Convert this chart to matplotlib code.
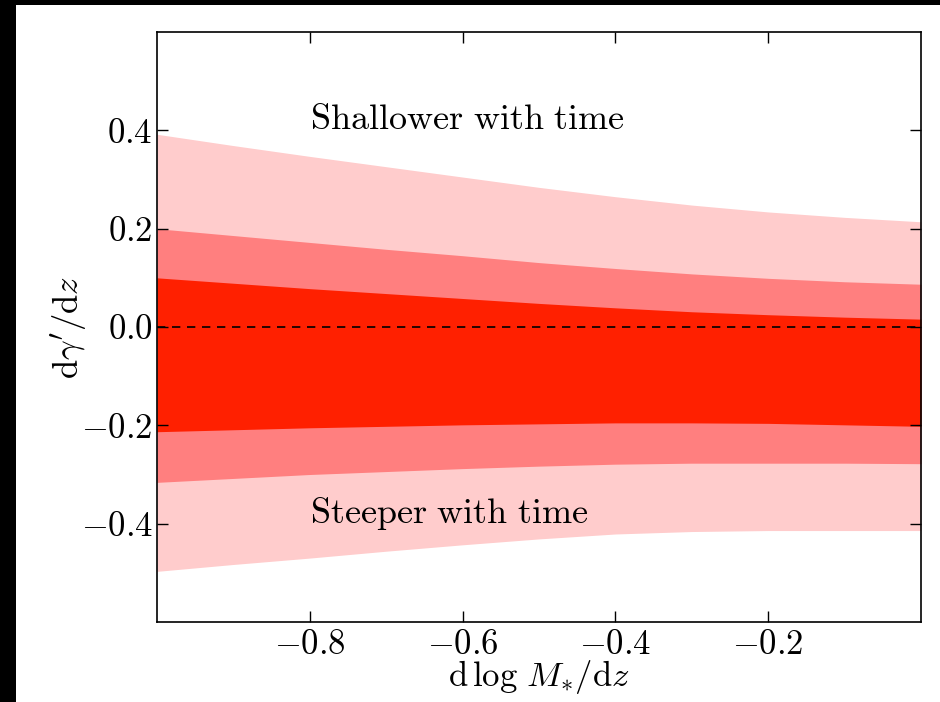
import numpy as np
import matplotlib
matplotlib.use('Agg')
from matplotlib import pyplot as plt
from matplotlib.patches import Rectangle

plt.rcParams['mathtext.fontset'] = 'cm'
plt.rcParams['font.family'] = 'serif'
plt.rcParams['font.serif'] = ['cmr10']
plt.rcParams['axes.formatter.use_mathtext'] = True
plt.rcParams['axes.unicode_minus'] = True

# d log M* / dz grid
dlogm = [-1.0, -0.9, -0.8, -0.7, -0.6, -0.5, -0.4, -0.3, -0.2, -0.1, 0.0]

# d gamma' / dz confidence bands (inner, middle, outer)
inner_hi = [0.100, 0.089, 0.078, 0.068, 0.058, 0.048, 0.039, 0.031, 0.025, 0.020, 0.016]
inner_lo = [-0.213, -0.209, -0.205, -0.202, -0.199, -0.197, -0.195, -0.195, -0.196, -0.199, -0.202]
mid_hi = [0.200, 0.186, 0.172, 0.158, 0.145, 0.131, 0.119, 0.108, 0.099, 0.092, 0.087]
mid_lo = [-0.316, -0.308, -0.300, -0.294, -0.288, -0.283, -0.279, -0.277, -0.277, -0.277, -0.278]
outer_hi = [0.392, 0.369, 0.347, 0.326, 0.305, 0.284, 0.265, 0.248, 0.234, 0.223, 0.214]
outer_lo = [-0.497, -0.483, -0.470, -0.456, -0.443, -0.431, -0.421, -0.416, -0.414, -0.414, -0.414]

xticks = [-0.8, -0.6, -0.4, -0.2]
yticks = [-0.4, -0.2, 0.0, 0.2, 0.4]

fig = plt.figure(figsize=(9.4, 7.02), dpi=100, facecolor='black')
# white page with a black margin on the left and top, as in the screenshot
fig.patches.append(Rectangle((16 / 940, 0), 1, 697 / 702, transform=fig.transFigure,
                             facecolor='white', edgecolor='none', zorder=-10))

ax = fig.add_axes([157 / 940, 80 / 702, 764 / 940, 590 / 702])

ax.fill_between(dlogm, outer_lo, outer_hi, color='#ffcccc', linewidth=0)
ax.fill_between(dlogm, mid_lo, mid_hi, color='#ff7f7f', linewidth=0)
ax.fill_between(dlogm, inner_lo, inner_hi, color='#ff2000', linewidth=0)
ax.axhline(0, color='black', linestyle='--', linewidth=1.2, dashes=(5, 4))

ax.text(-0.8, 0.42, r'$\mathrm{Shallower\ with\ time}$', fontsize=26, va='center', ha='left')
ax.text(-0.8, -0.38, r'$\mathrm{Steeper\ with\ time}$', fontsize=26, va='center', ha='left')

ax.set_xlim(-1.0, 0.0)
ax.set_ylim(-0.6, 0.6)
ax.set_xticks(xticks)
ax.set_yticks(yticks)
ax.tick_params(direction='in', length=8, width=1, top=True, right=True, labelsize=25)
ax.tick_params(axis='x', pad=5)
ax.tick_params(axis='y', pad=3)
for s in ax.spines.values():
    s.set_linewidth(1.2)

ax.set_xlabel(r'$\mathrm{d}\,\log\,M_{*}/\mathrm{d}z$', fontsize=25, labelpad=-2)
ax.set_ylabel(r"$\mathrm{d}\gamma^{\prime}/\mathrm{d}z$", fontsize=25, labelpad=-6)

fig.savefig('out.png', dpi=100, facecolor=fig.get_facecolor())
